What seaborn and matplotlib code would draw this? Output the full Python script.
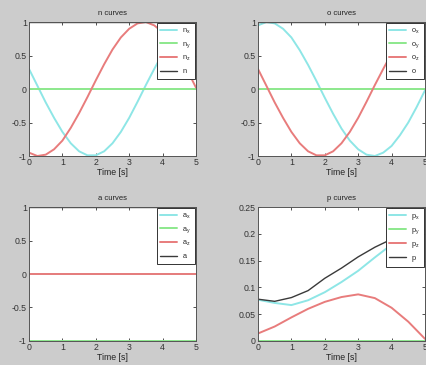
import numpy as np
import pandas as pd
import matplotlib
matplotlib.use("Agg")
import matplotlib.pyplot as plt
import seaborn as sns

# time samples (s)
t_fine = [0, 0.25, 0.5, 0.75, 1.0, 1.25, 1.5, 1.75, 2.0, 2.25, 2.5,
          2.75, 3.0, 3.25, 3.5, 3.75, 4.0, 4.25, 4.5, 4.75, 5.0]
t_coarse = [0, 0.5, 1.0, 1.5, 2.0, 2.5, 3.0, 3.5, 4.0, 4.5, 5.0]

# n curves
n_x = [0.30, 0.05, -0.20, -0.43, -0.64, -0.81, -0.93, -0.99, -0.99, -0.93, -0.81,
       -0.64, -0.43, -0.19, 0.06, 0.30, 0.53, 0.72, 0.87, 0.96, 1.00]
n_y = [0.0] * 21
n_z = [-0.95, -1.00, -0.98, -0.90, -0.77, -0.58, -0.36, -0.12, 0.13, 0.37, 0.59,
       0.77, 0.90, 0.98, 1.00, 0.95, 0.85, 0.69, 0.50, 0.27, 0.02]
n_norm = [1.0] * 21

# o curves
o_x = [0.95, 1.00, 0.98, 0.90, 0.77, 0.58, 0.36, 0.12, -0.13, -0.37, -0.59,
       -0.77, -0.90, -0.98, -1.00, -0.95, -0.85, -0.69, -0.50, -0.27, -0.02]
o_y = [0.0] * 21
o_z = [0.30, 0.05, -0.20, -0.43, -0.64, -0.81, -0.93, -0.99, -0.99, -0.93, -0.81,
       -0.64, -0.43, -0.19, 0.06, 0.30, 0.53, 0.72, 0.87, 0.96, 1.00]
o_norm = [1.0] * 21

# a curves
a_x = [0.0] * 11
a_y = [-1.0] * 11
a_z = [0.0] * 11
a_norm = [1.0] * 11

# p curves
p_x = [0.077, 0.071, 0.067, 0.076, 0.091, 0.110, 0.131, 0.156, 0.180, 0.199, 0.208]
p_y = [0.0] * 11
p_z = [0.014, 0.027, 0.044, 0.060, 0.073, 0.082, 0.087, 0.080, 0.062, 0.036, 0.004]
p_norm = [0.078, 0.074, 0.081, 0.094, 0.117, 0.136, 0.157, 0.175, 0.190, 0.202, 0.208]

colors = ["#8ee6e6", "#8ce88c", "#e87c7c", "#3a3a3a"]

sns.set_theme(style="white")
plt.rcParams["font.family"] = ["Liberation Sans", "DejaVu Sans"]
plt.rcParams["mathtext.fontset"] = "custom"
plt.rcParams["mathtext.rm"] = "Liberation Sans"

fig = plt.figure(figsize=(4.26, 3.65), dpi=100, facecolor="#cccccc")

panels = [
    ("n", t_fine, [n_x, n_y, n_z, n_norm], [0.0681, 0.5726], (-1, 1), [-1, -0.5, 0, 0.5, 1]),
    ("o", t_fine, [o_x, o_y, o_z, o_norm], [0.6056, 0.5726], (-1, 1), [-1, -0.5, 0, 0.5, 1]),
    ("a", t_coarse, [a_x, a_y, a_z, a_norm], [0.0681, 0.0658], (-1, 1), [-1, -0.5, 0, 0.5, 1]),
    ("p", t_coarse, [p_x, p_y, p_z, p_norm], [0.6056, 0.0658], (0, 0.25), [0, 0.05, 0.1, 0.15, 0.2, 0.25]),
]

for name, t, series, (left, bottom), ylim, yticks in panels:
    ax = fig.add_axes([left, bottom, 0.392, 0.367])
    ax.set_facecolor("white")
    labels = [rf"$\mathrm{{{name}_x}}$", rf"$\mathrm{{{name}_y}}$",
              rf"$\mathrm{{{name}_z}}$", rf"$\mathrm{{{name}}}$"]
    for vals, col, lab in zip(series, colors, labels):
        df = pd.DataFrame({"t": t, "v": vals})
        lw = 1.0 if col == colors[3] else 1.4
        sns.lineplot(data=df, x="t", y="v", color=col, lw=lw, label=lab, ax=ax)
    ax.set_xlim(0, 5)
    ax.set_ylim(*ylim)
    ax.set_xticks([0, 1, 2, 3, 4, 5])
    ax.set_xticklabels(["0", "1", "2", "3", "4", "5"])
    ax.set_yticks(yticks)
    ax.set_yticklabels([f"{v:g}" for v in yticks])
    ax.tick_params(direction="in", length=2.5, width=0.6, labelsize=6.3, pad=1.5,
                   colors="#333333", top=True, right=True, bottom=True, left=True)
    for sp in ax.spines.values():
        sp.set_color("#555555")
        sp.set_linewidth(0.7)
    ax.set_xlabel("Time [s]", fontsize=6.3, labelpad=1, color="#222222")
    ax.set_ylabel("")
    ax.set_title(f"{name} curves", fontsize=5.5, pad=5, color="#222222")
    leg = ax.legend(loc="upper right", fontsize=5.3, frameon=True, fancybox=False,
                    framealpha=1, edgecolor="#333333", handlelength=2.2,
                    borderpad=0.5, labelspacing=0.55, borderaxespad=0.15)
    leg.get_frame().set_linewidth(0.7)

fig.savefig("out.png", dpi=100, facecolor=fig.get_facecolor())
